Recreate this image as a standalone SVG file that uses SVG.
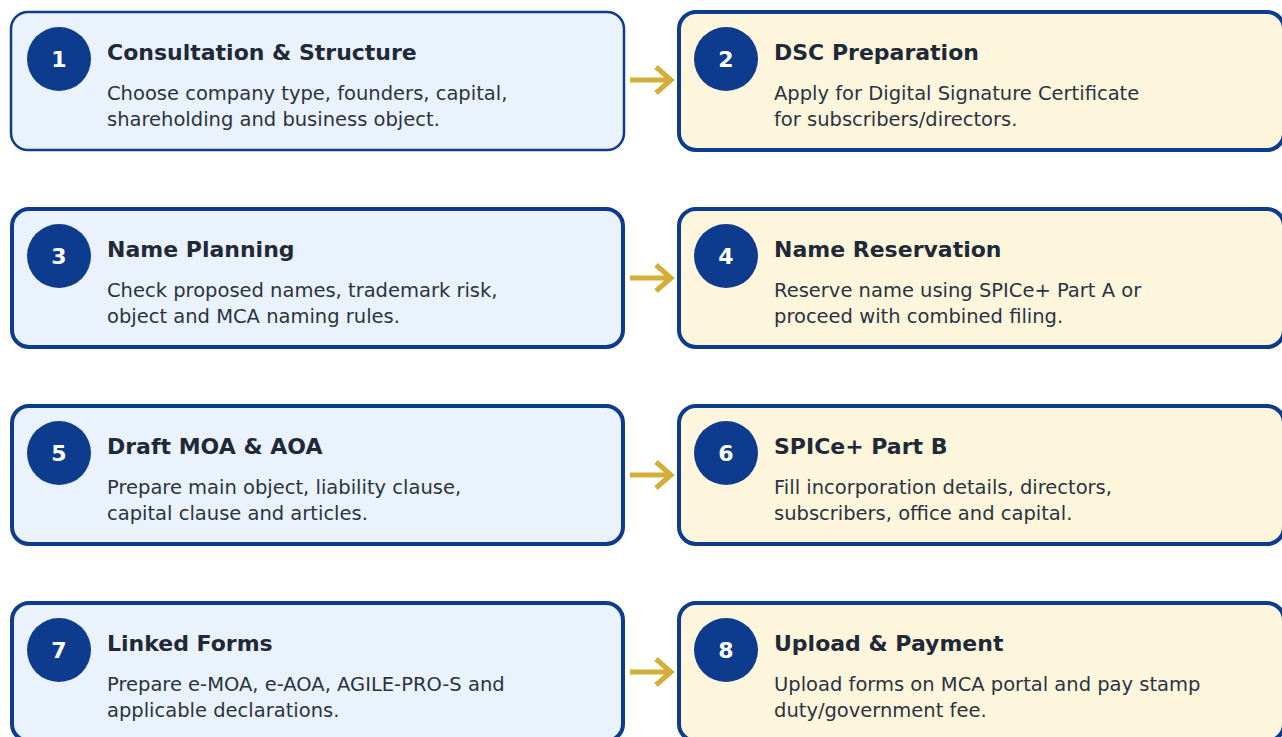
<svg xmlns="http://www.w3.org/2000/svg" width="1282" height="737" viewBox="0 0 1282 737">
<style>
.bl{fill:#EAF2FE;stroke:#0D3B8E;stroke-width:4}
.yl{fill:#FEF6DC;stroke:#0D3B8E;stroke-width:4}
.c{fill:#0D3B8E}
.n{font-family:"DejaVu Sans",sans-serif;font-weight:bold;font-size:22px;fill:#fff;text-anchor:middle}
.t{font-family:"DejaVu Sans",sans-serif;font-weight:bold;font-size:22px;fill:#1F2937}
.d{font-family:"DejaVu Sans",sans-serif;font-size:19.5px;fill:#2A3441}
.a{fill:none;stroke:#D4AF37;stroke-width:5}
</style>
<rect width="1282" height="737" fill="#fff"/>
<g id="node1"><rect class="bl" x="11" y="12" width="613" height="138" rx="17" style="stroke-width:2.5"/><circle class="c" cx="59" cy="59" r="32"/><text class="n" x="59" y="67">1</text><text class="t" x="107" y="60">Consultation &amp; Structure</text><text class="d" x="107" y="100">Choose company type, founders, capital,</text><text class="d" x="107" y="126">shareholding and business object.</text></g>
<g id="node2"><rect class="yl" x="679" y="12" width="605" height="138" rx="17"/><circle class="c" cx="726" cy="59" r="32"/><text class="n" x="726" y="67">2</text><text class="t" x="774" y="60">DSC Preparation</text><text class="d" x="774" y="100">Apply for Digital Signature Certificate</text><text class="d" x="774" y="126">for subscribers/directors.</text></g>
<g id="node3"><rect class="bl" x="12" y="209" width="611" height="138" rx="17"/><circle class="c" cx="59" cy="256" r="32"/><text class="n" x="59" y="264">3</text><text class="t" x="107" y="257">Name Planning</text><text class="d" x="107" y="297">Check proposed names, trademark risk,</text><text class="d" x="107" y="323">object and MCA naming rules.</text></g>
<g id="node4"><rect class="yl" x="679" y="209" width="605" height="138" rx="17"/><circle class="c" cx="726" cy="256" r="32"/><text class="n" x="726" y="264">4</text><text class="t" x="774" y="257">Name Reservation</text><text class="d" x="774" y="297">Reserve name using SPICe+ Part A or</text><text class="d" x="774" y="323">proceed with combined filing.</text></g>
<g id="node5"><rect class="bl" x="12" y="406" width="611" height="138" rx="17"/><circle class="c" cx="59" cy="453" r="32"/><text class="n" x="59" y="461">5</text><text class="t" x="107" y="454">Draft MOA &amp; AOA</text><text class="d" x="107" y="494">Prepare main object, liability clause,</text><text class="d" x="107" y="520">capital clause and articles.</text></g>
<g id="node6"><rect class="yl" x="679" y="406" width="605" height="138" rx="17"/><circle class="c" cx="726" cy="453" r="32"/><text class="n" x="726" y="461">6</text><text class="t" x="774" y="454">SPICe+ Part B</text><text class="d" x="774" y="494">Fill incorporation details, directors,</text><text class="d" x="774" y="520">subscribers, office and capital.</text></g>
<g id="node7"><rect class="bl" x="12" y="603" width="611" height="138" rx="17"/><circle class="c" cx="59" cy="650" r="32"/><text class="n" x="59" y="658">7</text><text class="t" x="107" y="651">Linked Forms</text><text class="d" x="107" y="691">Prepare e-MOA, e-AOA, AGILE-PRO-S and</text><text class="d" x="107" y="717">applicable declarations.</text></g>
<g id="node8"><rect class="yl" x="679" y="603" width="605" height="138" rx="17"/><circle class="c" cx="726" cy="650" r="32"/><text class="n" x="726" y="658">8</text><text class="t" x="774" y="651">Upload &amp; Payment</text><text class="d" x="774" y="691">Upload forms on MCA portal and pay stamp</text><text class="d" x="774" y="717">duty/government fee.</text></g>
<g id="connectors">
<path class="a" d="M630 80H670M656 67L671 80L656 93"/>
<path class="a" d="M630 278H670M656 265L671 278L656 291"/>
<path class="a" d="M630 475H670M656 462L671 475L656 488"/>
<path class="a" d="M630 672H670M656 659L671 672L656 685"/>
</g>
</svg>
